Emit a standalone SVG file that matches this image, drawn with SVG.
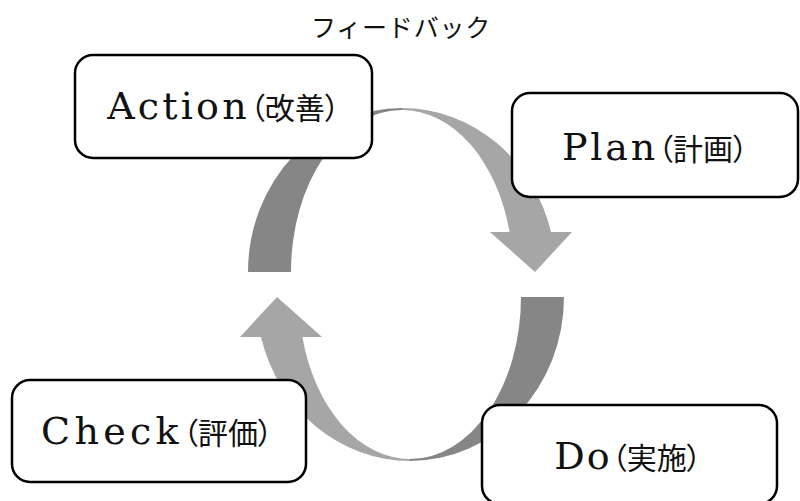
<svg xmlns="http://www.w3.org/2000/svg" width="800" height="501" viewBox="0 0 800 501">
  <style>
    .box { fill: #ffffff; stroke: #000000; stroke-width: 2.5; }
    .dark { fill: #868686; }
    .light { fill: #a6a6a6; }
    .label { font-family: "DejaVu Serif", "Liberation Serif", serif; font-size: 38px; fill: #111111; text-anchor: middle; }
    .jp { font-family: "Noto Sans CJK JP", sans-serif; font-size: 30px; font-weight: 400; font-feature-settings: "palt" 1; letter-spacing: 0; }
    .title { font-family: "Noto Sans CJK JP", sans-serif; font-size: 25px; font-weight: 400; fill: #111111; text-anchor: middle; letter-spacing: 0.8px; }
  </style>
  <defs>
    <!-- curved half-loop arrow: darker back half, lighter front half ending in a head -->
    <g id="halfLoop">
      <path class="dark" d="M248,272 A154,164 0 0 1 402,108 L402,110 A111,162 0 0 0 291,272 Z"/>
      <path class="light" d="M402,108 A154,164 0 0 1 551,232 L572,232 L535,272 L490,232 L509.6,232 A111,162 0 0 0 402,110 Z"/>
    </g>
  </defs>

  <g id="connectors">
    <use href="#halfLoop"/>
    <use href="#halfLoop" transform="rotate(180 406 284.5)"/>
  </g>

  <text id="feedback" class="title" x="401" y="37">フィードバック</text>

  <g id="action">
    <rect class="box" x="75" y="55" width="297" height="103" rx="18"/>
    <text class="label" x="223.5" y="119"><tspan style="letter-spacing:3.2px">Action</tspan><tspan class="jp">（改善）</tspan></text>
  </g>

  <g id="plan">
    <rect class="box" x="512" y="93" width="286" height="104" rx="18"/>
    <text class="label" x="655" y="160"><tspan style="letter-spacing:2.8px">Plan</tspan><tspan class="jp">（計画）</tspan></text>
  </g>

  <g id="check">
    <rect class="box" x="12" y="380" width="294" height="102" rx="18"/>
    <text class="label" x="157" y="444"><tspan style="letter-spacing:4.3px">Check</tspan><tspan class="jp">（評価）</tspan></text>
  </g>

  <g id="do">
    <rect class="box" x="482" y="405" width="295" height="99" rx="18"/>
    <text class="label" x="628" y="469"><tspan style="letter-spacing:2px">Do</tspan><tspan class="jp">（実施）</tspan></text>
  </g>
</svg>
